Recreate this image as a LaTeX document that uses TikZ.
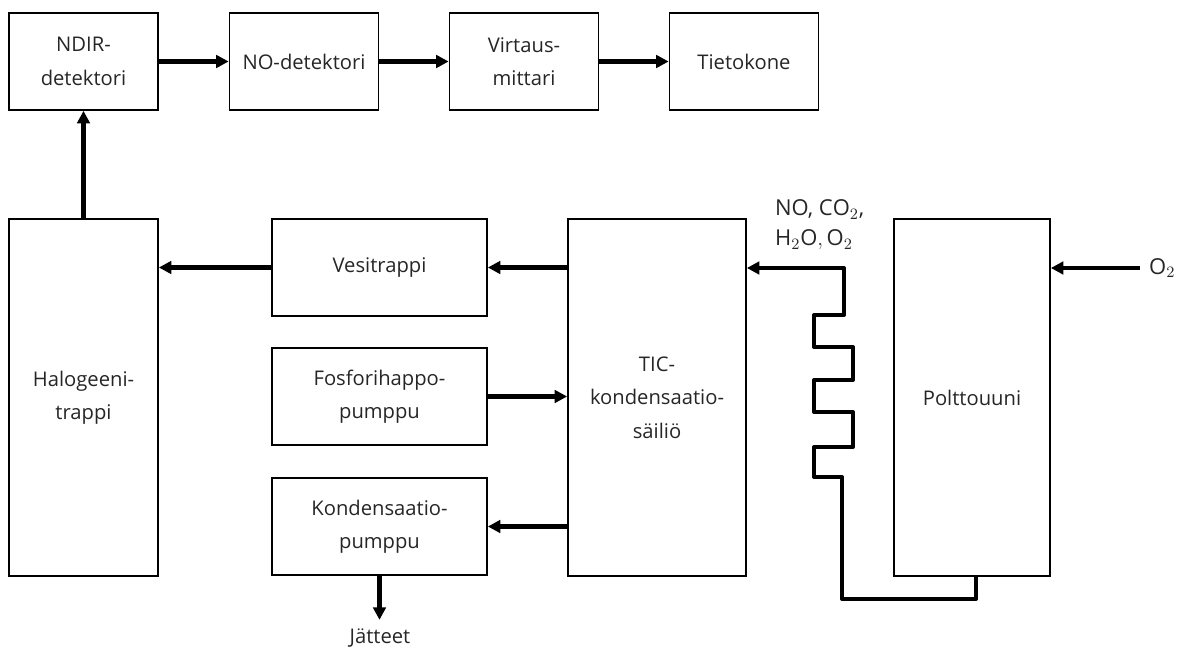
\documentclass[tikz,border=0pt]{standalone}
\usepackage{fontspec}
\setmainfont{Open Sans}
\usetikzlibrary{positioning,arrows.meta}
\tikzset{
  blk/.style={draw=black, line width=1pt, align=center, inner sep=2pt,
    font=\fontsize{11.5}{19}\selectfont, text=black!85},
  blksmall/.style={blk, minimum width=2.98cm, minimum height=1.94cm},
  blkmid/.style={blk, minimum width=4.3cm, minimum height=1.94cm},
  blktall/.style={blk, minimum height=7.14cm},
  flow/.style={-{Triangle[length=2.5mm,width=2.5mm]}, line width=2.3pt},
  pipe/.style={line width=2.3pt, line join=round},
  txt/.style={font=\fontsize{11.5}{17}\selectfont, inner sep=1pt, text=black!85},
  chem/.style={txt, font=\fontsize{12.5}{17}\selectfont},
}
\begin{document}
\begin{tikzpicture}[x=0.02cm, y=-0.02cm]
  \useasboundingbox (0,0) rectangle (1184,655);

  % ylarivi
  \node[blksmall] (ndir)  at (83.5,61.5) {NDIR-\\detektori};
  \node[blksmall] (nodet) at (304,61.5)  {NO-detektori};
  \node[blksmall] (virt)  at (524,61.5)  {Virtaus-\\mittari};
  \node[blksmall] (tieto) at (744,61.5)  {Tietokone};

  % alarivi
  \node[blktall, minimum width=2.98cm] (halo) at (83.5,397.5) {Halogeeni-\\trappi};
  \node[blkmid] (vesi)  at (379.5,267.5) {Vesitrappi};
  \node[blkmid] (fosfo) at (379.5,396.5) {Fosforihappo-\\pumppu};
  \node[blkmid] (kond)  at (379.5,526.5) {Kondensaatio-\\pumppu};
  \node[blktall, minimum width=3.56cm] (tic) at (657,397.5) {TIC-\\kondensaatio-\\säiliö};
  \node[blktall, minimum width=3.12cm] (poltto) at (972,397.5) {Polttouuni};

  % tekstit
  \node[txt] (jat) at (380,638) {Jätteet};
  \node[chem, anchor=west, inner sep=5pt] (o2) at (1140,268) {$\mathrm{O}_2$};
  \node[chem, anchor=west, align=left] (gas) at (773,225)
    {NO, $\mathrm{CO}_2$,\\$\mathrm{H}_2\mathrm{O}, \mathrm{O}_2$};
  \coordinate (gasin) at (844,268);

  % nuolet
  \draw[flow] (ndir) -- (nodet);
  \draw[flow] (nodet) -- (virt);
  \draw[flow] (virt) -- (tieto);
  \draw[flow] (halo.north) -- (ndir.south);
  \draw[flow] (vesi.west) -- (vesi.west -| halo.east);
  \draw[flow] (vesi.east -| tic.west) -- (vesi.east);
  \draw[flow] (fosfo.east) -- (fosfo.east -| tic.west);
  \draw[flow] (kond.east -| tic.west) -- (kond.east);
  \draw[flow] (kond.south) -- ++(0,44);
  \draw[flow] (o2.west) -- (o2.west -| poltto.east);

  % kierukka
  \draw[pipe, -{Triangle[length=2.5mm,width=2.5mm]}]
    ([xshift=0.08cm]poltto.south) -- ++(0,22) -| (842,477)
    -- (814,477) -- (814,447) -- (853,447) -- (853,412)
    -- (814,412) -- (814,380) -- (853,380) -- (853,347)
    -- (814,347) -- (814,315) -- (844,315) -- (gasin)
    -- (gasin -| tic.east);
\end{tikzpicture}
\end{document}
